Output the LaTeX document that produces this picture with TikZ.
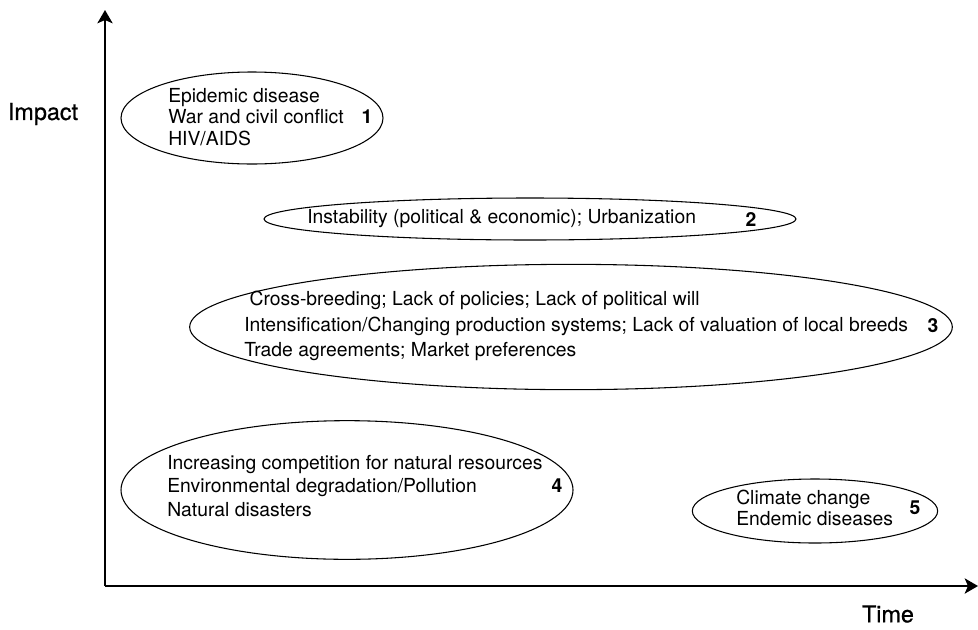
\documentclass[tikz,border=0pt]{standalone}
\usepackage{fontspec}
\setmainfont{TeX Gyre Heros}
\newfontfamily\axisfont[FakeBold=0.7]{TeX Gyre Heros}
\usetikzlibrary{arrows.meta,shapes.geometric}

\begin{document}
\begin{tikzpicture}[x=0.75pt,y=-0.75pt,
    risk/.style={draw, ellipse, line width=0.8pt, inner sep=0pt},
    factors/.style={anchor=west, align=left, inner sep=0pt, font=\fontsize{14.5}{16.2}\selectfont},
    rank/.style={font=\fontsize{14.5}{16.2}\selectfont\bfseries},
    axislabel/.style={font=\fontsize{17.5}{20}\axisfont},
    axis/.style={line width=1.2pt, -{Stealth[length=10pt,width=11.5pt,inset=2.5pt]}}]

\useasboundingbox (0,0) rectangle (978,629);

% axes
\coordinate (O) at (105,586);
\coordinate (ytop) at (105,10);
\coordinate (xend) at (978,586);
\draw[axis] (O) -- (ytop);
\draw[axis] (O) -- (xend);
\node[axislabel] (impact) at (43,114) {Impact};
\node[axislabel] (time) at (888,614) {Time};

% ellipses
\node[risk, minimum width=196.5pt, minimum height=69pt] (e1) at (252,118) {};
\node[risk, minimum width=399pt, minimum height=31.5pt] (e2) at (530,219) {};
\node[risk, minimum width=572pt, minimum height=94pt] (e3) at (571,327) {};
\node[risk, minimum width=339pt, minimum height=104pt] (e4) at (347,490) {};
\node[risk, minimum width=184pt, minimum height=48pt] (e5) at (815,511) {};

% texts
\node[factors] (t1) at (168,117) {Epidemic disease\\War and civil conflict\\HIV/AIDS};
\node[rank] (n1) at (367,117) {1};
\node[factors] (t2) at (307,219) {Instability (political \& economic); Urbanization};
\node[rank] (n2) at (751,219) {2};
\node[factors, font=\fontsize{14.5}{19}\selectfont] (t3) at (244,326) {\ Cross-breeding; Lack of policies; Lack of political will\\Intensification/Changing production systems; Lack of valuation of local breeds\\Trade agreements; Market preferences};
\node[rank] (n3) at (933,326) {3};
\node[factors, font=\fontsize{14.5}{17.5}\selectfont] (t4) at (167,486) {Increasing competition for natural resources\\Environmental degradation/Pollution\\Natural disasters};
\node[rank] (n4) at (557,486) {4};
\node[factors] (t5) at (736,508) {Climate change\\Endemic diseases};
\node[rank] (n5) at (915,508) {5};
\end{tikzpicture}
\end{document}
